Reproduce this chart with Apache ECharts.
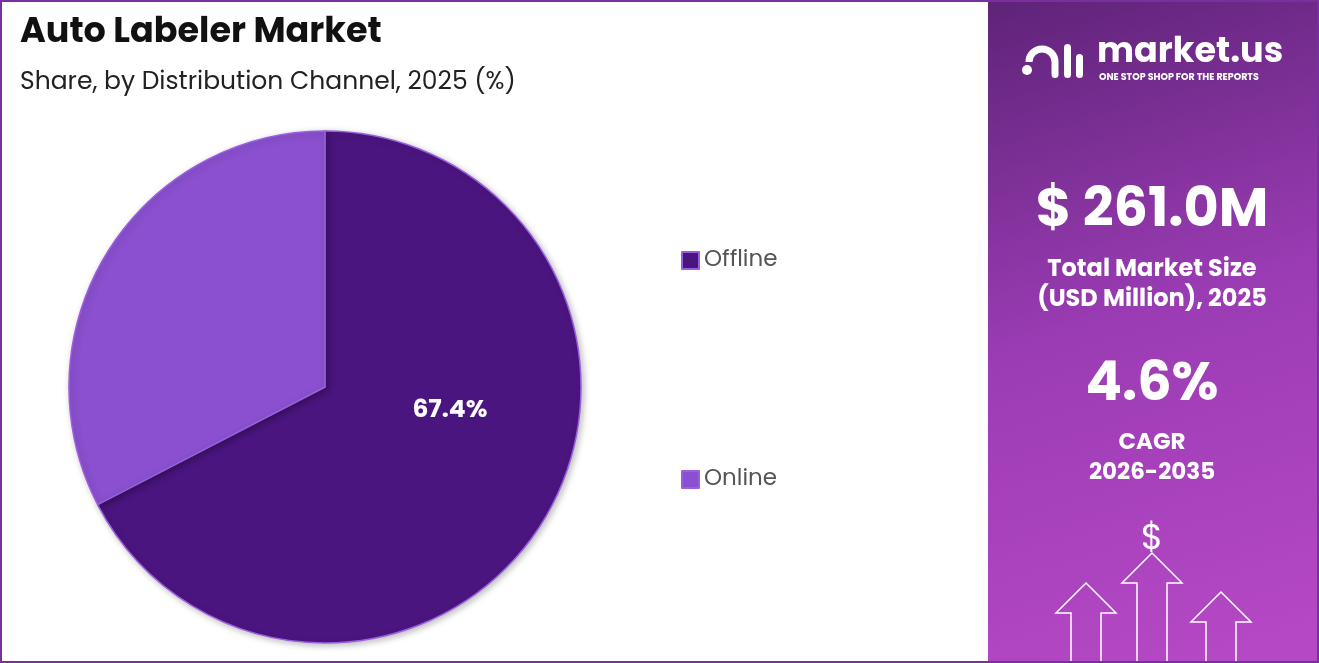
<!DOCTYPE html>
<html>
<head>
<meta charset="utf-8">
<script src="https://cdn.jsdelivr.net/npm/echarts@6/dist/echarts.min.js"></script>
<style>
  html, body { margin: 0; padding: 0; }
  #main { width: 1319px; height: 663px; }
</style>
</head>
<body>
<div id="main"></div>
<script>
// 分销渠道及份额
const channels = ['Offline', 'Online']
const shares = [67.4, 32.6]
const colors = ['#4b157f', '#8a50cf']

var myChart = echarts.init(document.getElementById('main'))

const font = 'Poppins, Inter, "Open Sans", sans-serif'
const center = (t, y, size) => ({ type: 'text', x: 1152, y: y,
  style: { text: t, fill: '#fff', font: 'bold ' + size + 'px ' + font, textAlign: 'center', textVerticalAlign: 'middle' } })

var option = {
  backgroundColor: '#ffffff',
  title: [
    {
      text: 'Auto Labeler Market',
      left: 15, top: 11,
      textStyle: { fontFamily: font, fontSize: 35, fontWeight: 'bold', color: '#111' }
    },
    {
      text: 'Share, by Distribution Channel, 2025 (%)',
      left: 15, top: 65,
      textStyle: { fontFamily: font, fontSize: 25, fontWeight: 'normal', color: '#222' }
    }
  ],
  legend: {
    orient: 'vertical',
    left: 676, top: 244,
    itemGap: 196,
    itemWidth: 17, itemHeight: 17,
    icon: 'rect',
    textStyle: { fontFamily: font, fontSize: 23, color: '#555' },
    data: channels
  },
  series: [
    {
      type: 'pie',
      center: [325, 387],
      radius: 256,
      startAngle: 90,
      clockwise: true,
      silent: true,
      itemStyle: { borderColor: '#9a5ee0', borderWidth: 1.5,
        shadowBlur: 6, shadowColor: 'rgba(0,0,0,0.25)', shadowOffsetX: 2, shadowOffsetY: 2 },
      label: {
        position: 'inside',
        formatter: (p) => p.dataIndex === 0 ? p.value + '%' : '',
        fontFamily: font, fontSize: 25, fontWeight: 'bold', color: '#fff'
      },
      labelLayout: { dx: 13, dy: -44 },
      labelLine: { show: false },
      data: channels.map((c, i) => ({ name: c, value: shares[i], itemStyle: { color: colors[i] } }))
    }
  ],
  graphic: [
    { type: 'rect', shape: { x: 1, y: 1, width: 1317, height: 661 }, style: { fill: 'none', stroke: '#7a2f9e', lineWidth: 2 }, z: 10 },
    {
      type: 'rect', shape: { x: 986, y: 0, width: 333, height: 663 },
      style: { fill: new echarts.graphic.LinearGradient(0, 0, 0.6, 1, [
        { offset: 0, color: '#5e2378' }, { offset: 0.5, color: '#9b3cb4' }, { offset: 1, color: '#b548c4' }
      ]) }
    },
    { type: 'rect', shape: { x: 985, y: 0, width: 3, height: 663 }, style: { fill: '#ffffff' }, z: 5 },
    // logo mark
    { type: 'circle', shape: { cx: 1027, cy: 70, r: 5 }, style: { fill: '#fff' } },
    { type: 'arc', shape: { cx: 1042, cy: 62, r: 13, startAngle: Math.PI, endAngle: 0 }, style: { stroke: '#fff', lineWidth: 7, fill: 'none' } },
    { type: 'rect', shape: { x: 1051.5, y: 60, width: 7, height: 18, r: 3.5 }, style: { fill: '#fff' } },
    { type: 'rect', shape: { x: 1064, y: 44, width: 7, height: 34, r: 3.5 }, style: { fill: '#fff' } },
    { type: 'rect', shape: { x: 1076, y: 54, width: 7, height: 24, r: 3.5 }, style: { fill: '#fff' } },
    { type: 'text', left: 1097, top: 36, style: { text: 'market.us', fill: '#fff', font: 'bold 35px ' + font } },
    { type: 'text', left: 1099, top: 73, style: { text: 'ONE STOP SHOP FOR THE REPORTS', fill: '#fff', font: 'bold 9.5px ' + font } },
    center('$ 261.0M', 212, 54),
    center('Total Market Size', 270, 24),
    center('(USD Million), 2025', 300, 24),
    center('4.6%', 386, 54),
    center('CAGR', 443, 23),
    center('2026-2035', 473, 23),
    { type: 'text', x: 1152, y: 540, style: { text: '$', fill: '#fff', font: '36px ' + font, textAlign: 'center', textVerticalAlign: 'middle' } },
    { type: 'polygon', shape: { points: [[1152,553],[1182,583],[1167,583],[1167,663],[1137,663],[1137,583],[1122,583]] }, style: { fill: 'none', stroke: '#fff', lineWidth: 1.5 } },
    { type: 'polygon', shape: { points: [[1086,583],[1116,613],[1101,613],[1101,663],[1071,663],[1071,613],[1056,613]] }, style: { fill: 'none', stroke: '#fff', lineWidth: 1.5 } },
    { type: 'polygon', shape: { points: [[1221,592],[1251,622],[1236,622],[1236,663],[1206,663],[1206,622],[1191,622]] }, style: { fill: 'none', stroke: '#fff', lineWidth: 1.5 } }
  ]
}

myChart.setOption(option)
window.onresize = function () {
  myChart.resize()
}
</script>
</body>
</html>
